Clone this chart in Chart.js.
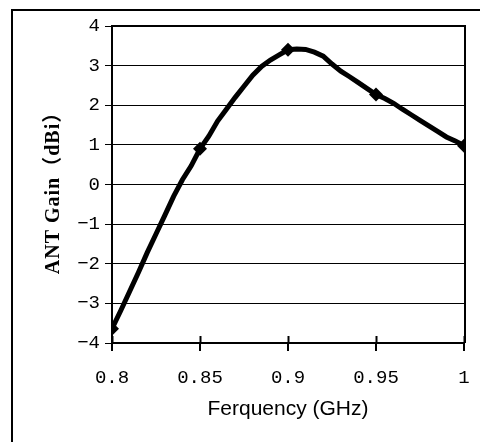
<!DOCTYPE html>
<html>
<head>
<meta charset="utf-8">
<script src="https://cdn.jsdelivr.net/npm/chart.js@4"></script>
<style>
  html, body { margin: 0; padding: 0; background: #fff; }
  #wrap { width: 480px; height: 442px; }
</style>
</head>
<body>
<div id="wrap"><canvas id="gain-chart" width="480" height="442"></canvas></div>
<script>
// ====== DATA ======
const freqGHz = [
  0.8, 0.805, 0.81, 0.815, 0.82, 0.825, 0.83, 0.835, 0.84, 0.845,
  0.85, 0.855, 0.86, 0.865, 0.87, 0.875, 0.88, 0.885, 0.89, 0.895,
  0.9, 0.905, 0.91, 0.915, 0.92, 0.925, 0.93, 0.935, 0.94, 0.945,
  0.95, 0.955, 0.96, 0.965, 0.97, 0.975, 0.98, 0.985, 0.99, 0.995, 1.0
];
const gainDBi = [
  -3.64, -3.18, -2.70, -2.22, -1.72, -1.25, -0.78, -0.30, 0.12, 0.47,
  0.90, 1.22, 1.60, 1.90, 2.20, 2.48, 2.76, 2.98, 3.14, 3.27,
  3.40, 3.42, 3.41, 3.34, 3.24, 3.04, 2.86, 2.72, 2.57, 2.42,
  2.27, 2.17, 2.05, 1.90, 1.76, 1.62, 1.48, 1.34, 1.20, 1.10, 0.98
];
const markerFreqs = [0.8, 0.85, 0.9, 0.95, 1.0];
const xTicks = [0.8, 0.85, 0.9, 0.95, 1.0];
const yTicks = [-4, -3, -2, -1, 0, 1, 2, 3, 4];
const xTitle = 'Ferquency (GHz)';
const yTitle = 'ANT Gain（dBi）';

const monoFont = '"Liberation Mono", "DejaVu Sans Mono", monospace';

// ====== EXTRA DRAWING (frame, plot border, inner tick marks, y title) ======
const framePlugin = {
  id: 'frame',
  afterDraw(chart) {
    const ctx = chart.ctx;
    const area = chart.chartArea;
    const xScale = chart.scales.x;
    ctx.save();
    ctx.strokeStyle = '#000';

    // outer frame: top and left edges only
    ctx.lineWidth = 2;
    ctx.beginPath();
    ctx.moveTo(11, 10);
    ctx.lineTo(480, 10);
    ctx.moveTo(12, 9);
    ctx.lineTo(12, 442);
    ctx.stroke();

    // plot area top and right edges
    ctx.beginPath();
    ctx.moveTo(area.left, area.top);
    ctx.lineTo(area.right + 1, area.top);
    ctx.lineTo(area.right + 1, area.bottom);
    ctx.stroke();

    // x tick marks poking into the plot
    xTicks.forEach(v => {
      const px = Math.round(xScale.getPixelForValue(v)) + 0.5;
      ctx.beginPath();
      ctx.moveTo(px, area.bottom);
      ctx.lineTo(px, area.bottom - 7);
      ctx.stroke();
    });

    // y axis title
    ctx.translate(54, 188);
    ctx.rotate(-Math.PI / 2);
    ctx.fillStyle = '#000';
    ctx.font = 'bold 20px "Liberation Serif", "Noto Sans CJK SC", serif';
    ctx.letterSpacing = '1px';
    ctx.textAlign = 'center';
    ctx.textBaseline = 'middle';
    ctx.fillText(yTitle, 0, 0);
    ctx.restore();
  }
};

// ====== CHART ======
const ctx = document.getElementById('gain-chart').getContext('2d');
const points = freqGHz.map((f, i) => ({ x: f, y: gainDBi[i] }));

new Chart(ctx, {
  type: 'line',
  data: {
    datasets: [{
      data: points,
      borderColor: '#000',
      backgroundColor: '#000',
      borderWidth: 5,
      tension: 0,
      pointStyle: 'rectRot',
      pointRadius: c => markerFreqs.includes(freqGHz[c.dataIndex]) ? 7 : 0,
      pointBorderWidth: 0,
      pointHoverRadius: 0
    }]
  },
  options: {
    responsive: false,
    animation: false,
    layout: { padding: { top: 26, right: 16, left: 0, bottom: 0 } },
    plugins: {
      legend: { display: false },
      tooltip: { enabled: false }
    },
    scales: {
      x: {
        type: 'linear',
        min: 0.8,
        max: 1.0,
        afterBuildTicks: s => { s.ticks = xTicks.map(v => ({ value: v })); },
        afterFit: s => { s.height = 99; s.paddingLeft = 0; s.paddingRight = 6; },
        ticks: {
          color: '#000',
          padding: 16,
          maxRotation: 0,
          font: { family: monoFont, size: 19 },
          callback: v => String(+v.toFixed(2))
        },
        grid: {
          drawOnChartArea: false,
          drawTicks: true,
          tickLength: 8,
          color: '#000',
          lineWidth: 2
        },
        border: { display: true, color: '#000', width: 2 },
        title: {
          display: true,
          text: xTitle,
          color: '#000',
          font: { family: '"Liberation Sans", Arial, sans-serif', size: 21 },
          padding: { top: 0, bottom: 20 }
        }
      },
      y: {
        min: -4,
        max: 4,
        afterBuildTicks: s => { s.ticks = yTicks.map(v => ({ value: v })); },
        afterFit: s => { s.width = 112; },
        ticks: {
          color: '#000',
          padding: 5,
          font: { family: monoFont, size: 19 },
          callback: v => v < 0 ? '\u2212' + Math.abs(v) : String(v)
        },
        grid: {
          drawTicks: true,
          tickLength: 7,
          color: '#000',
          lineWidth: 1
        },
        border: { display: true, color: '#000', width: 2 }
      }
    }
  },
  plugins: [framePlugin]
});
</script>
</body>
</html>
